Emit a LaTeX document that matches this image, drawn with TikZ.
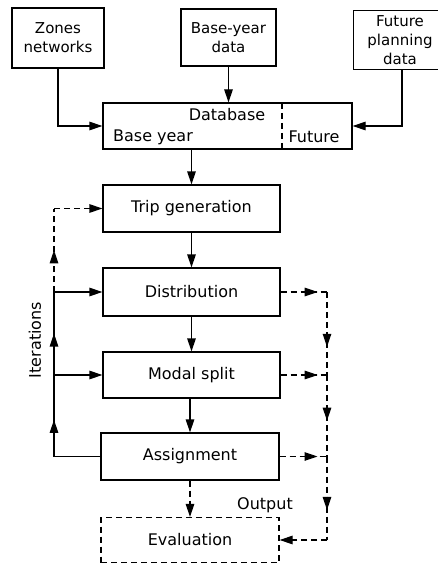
\documentclass[tikz,border=0pt]{standalone}
\usepackage{fontspec}
\setmainfont{DejaVu Sans}
\usetikzlibrary{arrows.meta,decorations.markings}
\begin{document}
\begin{tikzpicture}[x=1pt,y=-1pt,
  font=\fontsize{16}{20}\selectfont,
  line width=1.2pt,
  tip/.tip={Triangle[length=13pt,width=8.5pt]},
  box/.style={draw,rectangle,inner sep=0pt,align=center},
  topbox/.style={box,font=\fontsize{15}{19}\selectfont},
  arr/.style={-tip},
  dsh/.style={dash pattern=on 6pt off 4pt},
  midarr/.style={postaction={decorate},decoration={markings,mark=at position #1 with {\arrow{tip}}}}
]
\useasboundingbox (0,0) rectangle (438,564);
% top boxes
\node[topbox,minimum width=92pt,minimum height=60pt] (zones) at (58,38) {Zones\\networks};
\node[topbox,minimum width=95pt,minimum height=57pt] (by) at (228.5,37.5) {Base-year\\data};
\node[rectangle,inner sep=0pt,minimum width=100pt,minimum height=58pt] (fut) at (404,40) {};
\draw (fut.north east) -- (fut.north west) -- (fut.south west) -- (fut.south east);
\node[font=\fontsize{15}{19}\selectfont,align=center] (futt) at (400,40) {Future\\planning\\data};
% database
\node[box,minimum width=249pt,minimum height=46pt] (db) at (227.5,126) {};
\node (dbt) at (227,115) {Database};
\node (dbb) at (153,137) {Base year};
\node (dbf) at (314,137) {Future};
\coordinate (dvt) at (282,103);
\coordinate (dvb) at (282,149);
\draw[dsh] (dvt) -- (dvb);
% chain
\node[box,minimum width=177pt,minimum height=47pt] (tg) at (191.5,208.5) {Trip generation};
\node[box,minimum width=177pt,minimum height=48pt] (dist) at (191.5,292) {Distribution};
\node[box,minimum width=177pt,minimum height=46pt] (ms) at (191.5,375) {Modal split};
\node[box,minimum width=178pt,minimum height=47pt] (asg) at (190,456.5) {Assignment};
\node[box,dsh,minimum width=178pt,minimum height=45pt] (ev) at (190,540) {Evaluation};
\node (out) at (265,505) {Output};
\node[rotate=90] (it) at (35,340) {Iterations};
% inputs
\draw[arr] (zones.south) |- (db.west);
\draw[arr] (by.south) -- (by.south |- db.north);
\draw[arr] ([xshift=-2pt]fut.south) |- (db.east);
\draw[arr] (tg.north |- db.south) -- (tg.north);
\draw[arr] (tg.south) -- (dist.north);
\draw[arr] (dist.south) -- (ms.north);
\draw[arr] (ms.south -| asg.north) -- (asg.north);
\draw[arr,dsh] (asg.south) -- (ev.north);
% left loop
\coordinate (lx) at (54,0);
\coordinate (l1) at (lx |- tg.west);
\coordinate (l2) at (lx |- dist.west);
\coordinate (l3) at (lx |- ms.west);
\coordinate (l4) at (lx |- asg.west);
\draw[dsh,midarr=0.5] (l2) -- (l1);
\draw[arr,dsh] (l1) -- (tg.west);
\draw[midarr=0.5] (l3) -- (l2);
\draw (asg.west) -- (l4);
\draw[midarr=0.45] (l4) -- (l3);
\draw[arr] (l2) -- (dist.west);
\draw[arr] (l3) -- (ms.west);
% right loop
\coordinate (rx) at (327,0);
\coordinate (r1) at (rx |- dist.east);
\coordinate (r2) at (rx |- ms.east);
\coordinate (r3) at (rx |- asg.east);
\coordinate (r4) at (rx |- ev.east);
\draw[dsh,midarr=0.8] (dist.east) -- (r1);
\draw[dsh,midarr=0.8] (ms.east) -- (r2);
\draw[dsh,midarr=0.8] (asg.east) -- (r3);
\draw[dsh,midarr=0.66] (r1) -- (r2);
\draw[dsh,midarr=0.56] (r2) -- (r3);
\draw[dsh,midarr=0.64] (r3) -- (r4);
\draw[dsh,arr] (r4) -- (ev.east);
\end{tikzpicture}
\end{document}
